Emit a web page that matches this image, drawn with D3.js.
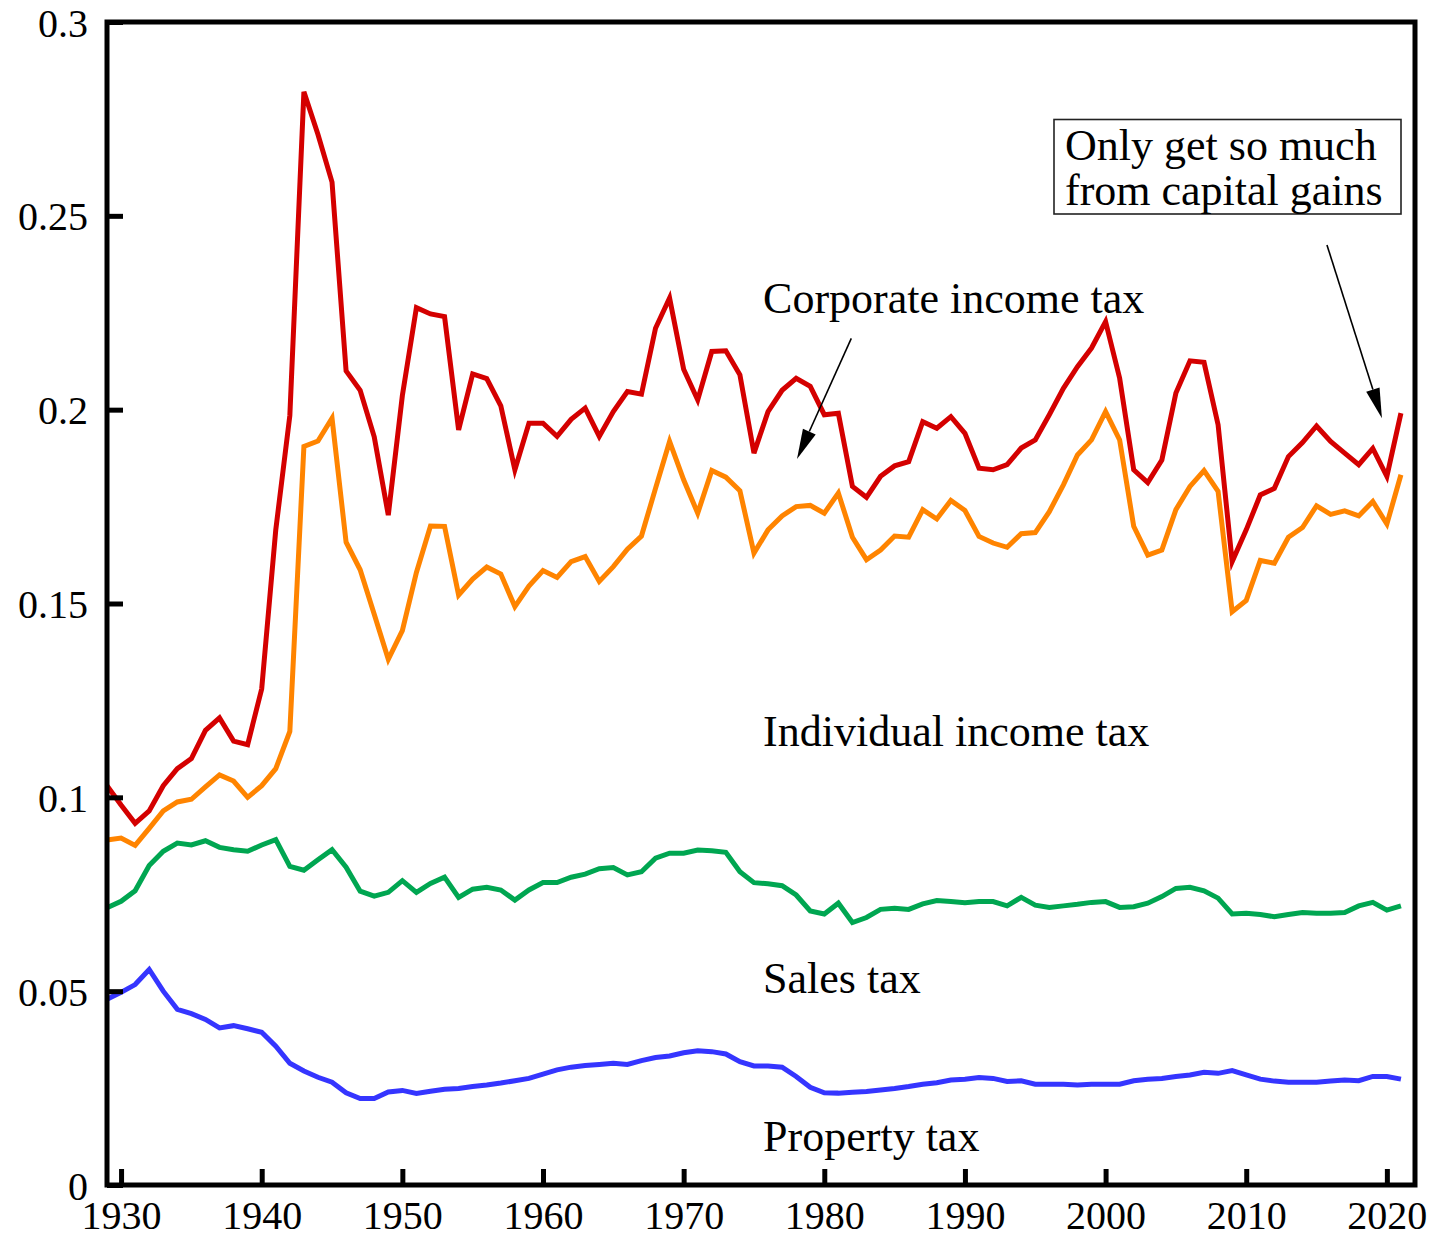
<!DOCTYPE html>
<html>
<head>
<meta charset="utf-8">
<script src="https://cdn.jsdelivr.net/npm/d3@7"></script>
<style>
  html, body { margin: 0; padding: 0; background: #fff; }
  svg text { font-family: "Liberation Serif", "Times New Roman", serif; fill: #000; }
</style>
</head>
<body>
<div id="chart"></div>
<script>
// tax revenue shares by type, 1929-2021
const years = d3.range(1929, 2022);

const corporate = [
  0.103, 0.098, 0.0933, 0.0965, 0.103, 0.1074, 0.110, 0.1173, 0.1205, 0.1145,
  0.1136, 0.128, 0.169, 0.1985, 0.282, 0.271, 0.2587, 0.210, 0.205, 0.193,
  0.1728, 0.2036, 0.2263, 0.2247, 0.224, 0.1948, 0.2092, 0.208, 0.201, 0.1845,
  0.1965, 0.1965, 0.1931, 0.1975, 0.2004, 0.1931, 0.1995, 0.2047, 0.204, 0.221,
  0.2288, 0.2104, 0.2025, 0.215, 0.2152, 0.209, 0.1888, 0.1995, 0.205, 0.2081,
  0.206, 0.1987, 0.1991, 0.1802, 0.1774, 0.1828, 0.1855, 0.1866, 0.1969, 0.1952,
  0.1982, 0.1939, 0.1849, 0.1845, 0.1858, 0.1901, 0.1922, 0.1987, 0.2055, 0.2111,
  0.2159, 0.2227, 0.2081, 0.1845, 0.1812, 0.187, 0.2043, 0.2126, 0.2122, 0.1961,
  0.1608, 0.169, 0.178, 0.1797, 0.1879, 0.1915, 0.1958, 0.1918, 0.1888, 0.1858,
  0.19, 0.1828, 0.1991
];

const individual = [
  0.089, 0.0895, 0.0876, 0.092, 0.0965, 0.0988, 0.0995, 0.1027, 0.1058, 0.1042,
  0.100, 0.103, 0.1074, 0.117, 0.1905, 0.1919, 0.1978, 0.1658, 0.1587, 0.1472,
  0.1356, 0.143, 0.158, 0.170, 0.1699, 0.1522, 0.1563, 0.1594, 0.1576, 0.1492,
  0.1545, 0.1585, 0.1567, 0.1608, 0.1621, 0.1557, 0.1595, 0.164, 0.1674, 0.1797,
  0.1918, 0.1819, 0.1733, 0.1843, 0.1826, 0.1791, 0.163, 0.169, 0.1726, 0.175,
  0.1753, 0.1733, 0.1785, 0.1671, 0.1613, 0.1638, 0.1674, 0.1671, 0.1742, 0.1718,
  0.1766, 0.174, 0.1673, 0.1656, 0.1645, 0.168, 0.1683, 0.1737, 0.1806, 0.1883,
  0.1922, 0.1995, 0.1922, 0.1699, 0.1625, 0.1638, 0.1742, 0.1802, 0.1843, 0.1789,
  0.1479, 0.1508, 0.1611, 0.1604, 0.1671, 0.1696, 0.1752, 0.173, 0.1739, 0.1726,
  0.1763, 0.1705, 0.1832
];

const sales = [
  0.0715, 0.0732, 0.0759, 0.0824, 0.0861, 0.0882, 0.0877, 0.0888, 0.0871, 0.0865,
  0.0861, 0.0877, 0.0891, 0.0822, 0.0812, 0.0839, 0.0865, 0.082, 0.0758, 0.0745,
  0.0755, 0.0785, 0.0755, 0.0778, 0.0794, 0.0742, 0.0763, 0.0768, 0.0761, 0.0735,
  0.0761, 0.078, 0.078, 0.0794, 0.0802, 0.0816, 0.0819, 0.080, 0.0808, 0.0843,
  0.0856, 0.0856, 0.0864, 0.0862, 0.0858, 0.0808, 0.078, 0.0777, 0.0772, 0.0748,
  0.0707, 0.0699, 0.0727, 0.0677, 0.069, 0.0711, 0.0714, 0.0711, 0.0725, 0.0734,
  0.0731, 0.0728, 0.0731, 0.0731, 0.072, 0.0742, 0.0722, 0.0716, 0.072, 0.0724,
  0.0729, 0.0731, 0.0716, 0.0718, 0.0727, 0.0744, 0.0765, 0.0768, 0.0759, 0.074,
  0.0699, 0.0701, 0.0698, 0.0692, 0.0698, 0.0703, 0.0701, 0.0701, 0.0703, 0.072,
  0.0729, 0.0709, 0.072
];

const property = [
  0.0479, 0.0497, 0.0517, 0.0556, 0.050, 0.0453, 0.0442, 0.0427, 0.0405, 0.0411,
  0.0403, 0.0394, 0.0358, 0.0314, 0.0294, 0.0278, 0.0265, 0.0238, 0.0223, 0.0223,
  0.024, 0.0244, 0.0236, 0.0242, 0.0247, 0.0249, 0.0254, 0.0258, 0.0263, 0.0269,
  0.0275, 0.0286, 0.0297, 0.0304, 0.0308, 0.0311, 0.0314, 0.0311, 0.0321, 0.0329,
  0.0333, 0.0341, 0.0346, 0.0344, 0.0338, 0.0318, 0.0307, 0.0307, 0.0304, 0.028,
  0.0252, 0.0238, 0.0237, 0.0239, 0.0241, 0.0245, 0.0249, 0.0254, 0.026, 0.0264,
  0.0271, 0.0273, 0.0277, 0.0275, 0.0267, 0.0269, 0.026, 0.026, 0.026, 0.0258,
  0.026, 0.026, 0.026, 0.0269, 0.0273, 0.0275, 0.028, 0.0284, 0.0291, 0.0288,
  0.0295, 0.0284, 0.0273, 0.0268, 0.0265, 0.0265, 0.0265, 0.0268, 0.0271, 0.0269,
  0.028, 0.028, 0.0273
];

const xTicks = [1930, 1940, 1950, 1960, 1970, 1980, 1990, 2000, 2010, 2020];
const yTicks = [0, 0.05, 0.1, 0.15, 0.2, 0.25, 0.3];

const series = [
  { name: "Corporate income tax", values: corporate, color: "#d40000" },
  { name: "Individual income tax", values: individual, color: "#ff8400" },
  { name: "Sales tax", values: sales, color: "#00a651" },
  { name: "Property tax", values: property, color: "#3535ff" }
];

var width = 1440, height = 1238;
var margin = { top: 22, right: 25, bottom: 53, left: 107 };

var svg = d3.select("#chart").append("svg")
  .attr("width", width)
  .attr("height", height);

var x = d3.scaleLinear().domain([1929, 2022]).range([margin.left, width - margin.right]);
var y = d3.scaleLinear().domain([0, 0.3]).range([height - margin.bottom, margin.top]);

// lines
var line = d3.line()
  .x((d, i) => x(years[i]))
  .y(d => y(d));

svg.append("g").selectAll("path")
  .data(series)
  .join("path")
  .attr("fill", "none")
  .attr("stroke", d => d.color)
  .attr("stroke-width", 5)
  .attr("d", d => line(d.values));

// axes: inward ticks, no domain line (frame drawn separately)
var xAxis = svg.append("g")
  .attr("transform", `translate(0,${y(0)})`)
  .call(d3.axisBottom(x).tickValues(xTicks).tickFormat(d3.format("d")).tickSizeInner(-16).tickSizeOuter(0).tickPadding(0));
xAxis.select(".domain").remove();
xAxis.selectAll(".tick line").attr("stroke", "#000").attr("stroke-width", 5);
xAxis.selectAll(".tick text")
  .attr("y", 44)
  .attr("dy", 0)
  .style("font-size", "40px");

var yAxis = svg.append("g")
  .attr("transform", `translate(${x(1929)},0)`)
  .call(d3.axisLeft(y).tickValues(yTicks).tickFormat(d => d3.format("")(+d.toFixed(2))).tickSizeInner(-16).tickSizeOuter(0));
yAxis.select(".domain").remove();
yAxis.selectAll(".tick line").attr("stroke", "#000").attr("stroke-width", 5);
yAxis.selectAll(".tick text")
  .attr("x", -19)
  .attr("dy", "0.35em")
  .style("font-size", "40px");

// frame
svg.append("rect")
  .attr("x", x(1929))
  .attr("y", y(0.3))
  .attr("width", x(2022) - x(1929))
  .attr("height", y(0) - y(0.3))
  .attr("fill", "none")
  .attr("stroke", "#000")
  .attr("stroke-width", 5);

// series labels
const labelYear = 1975.65;
const labelVals = [0.2249, 0.1132, 0.0495, 0.0088];
svg.append("g").selectAll("text")
  .data(series)
  .join("text")
  .attr("x", x(labelYear))
  .attr("y", (d, i) => y(labelVals[i]))
  .style("font-size", "44px")
  .text(d => d.name);

// arrows
function arrow(x1, y1, x2, y2) {
  const g = svg.append("g");
  const ang = Math.atan2(y2 - y1, x2 - x1);
  const hl = 30, hw = 7;
  const bx = x2 - hl * Math.cos(ang), by = y2 - hl * Math.sin(ang);
  g.append("line")
    .attr("x1", x1).attr("y1", y1)
    .attr("x2", bx).attr("y2", by)
    .attr("stroke", "#000").attr("stroke-width", 1.6);
  const px = -Math.sin(ang) * hw, py = Math.cos(ang) * hw;
  g.append("path")
    .attr("d", `M${x2},${y2}L${bx + px},${by + py}L${bx - px},${by - py}Z`)
    .attr("fill", "#000");
}
arrow(x(1981.92), y(0.2184), x(1978.06), y(0.1873));
arrow(x(2015.74), y(0.2425), x(2019.65), y(0.1978));

// note box
var note = svg.append("g");
note.append("rect")
  .attr("x", 1054)
  .attr("y", 119.5)
  .attr("width", 347)
  .attr("height", 94.5)
  .attr("fill", "#fff")
  .attr("stroke", "#222")
  .attr("stroke-width", 1.6);
note.append("text")
  .attr("x", 1065)
  .attr("y", 160)
  .style("font-size", "44px")
  .text("Only get so much");
note.append("text")
  .attr("x", 1065)
  .attr("y", 205)
  .style("font-size", "44px")
  .text("from capital gains");
</script>
</body>
</html>
